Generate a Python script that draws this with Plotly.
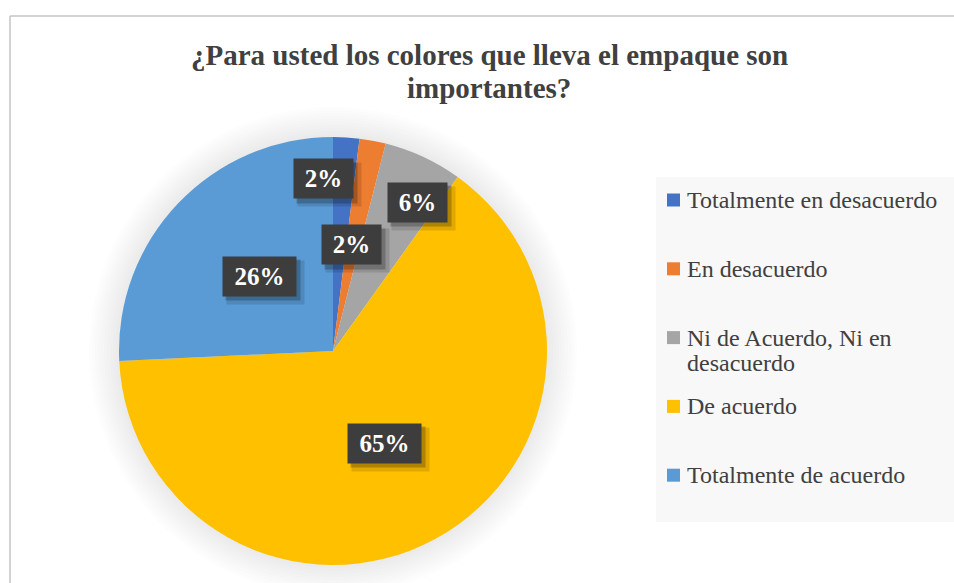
import math
import plotly.graph_objects as go

# Survey answers (percent of respondents)
categories = [
    "Totalmente en desacuerdo",
    "En desacuerdo",
    "Ni de Acuerdo, Ni en<br>desacuerdo",
    "De acuerdo",
    "Totalmente de acuerdo",
]
values = [2, 2, 6, 65, 26]
colors = ["#4472C4", "#ED7D31", "#A5A5A5", "#FFC000", "#5B9BD5"]
title_lines = ["¿Para usted los colores que lleva el empaque son", "importantes?"]

W, H = 954, 583
SERIF = "Liberation Serif"
TEXT_GRAY = "#404040"

# pie placement (pixels)
PIE_CX, PIE_CY, PIE_R = 333, 351, 214

# data-label placement: fraction of radius and small angular nudge (deg)
LABEL_RF = [0.807, 0.503, 0.80, 0.494, 0.49]
LABEL_DA = [-6.8, -0.8, 4.6, -0.5, 1.7]


def px(x):
    return x / W


def py(y):
    return 1 - y / H


fig = go.Figure()
fig.add_trace(go.Pie(
    labels=[c.replace("<br>", " ") for c in categories],
    values=values,
    marker=dict(colors=colors, line=dict(width=0)),
    sort=False,
    direction="clockwise",
    rotation=0,
    textinfo="none",
    showlegend=False,
    domain=dict(x=[px(PIE_CX - PIE_R), px(PIE_CX + PIE_R)],
                y=[py(PIE_CY + PIE_R), py(PIE_CY - PIE_R)]),
))

shapes = []
# soft glow around the pie
for k in range(10):
    rr = PIE_R + 3 * (k + 1)
    shapes.append(dict(
        type="circle", xref="paper", yref="paper", layer="below",
        x0=px(PIE_CX - rr), x1=px(PIE_CX + rr),
        y0=py(PIE_CY + rr), y1=py(PIE_CY - rr),
        fillcolor="#808080", opacity=0.018, line=dict(width=0),
    ))

# chart frame (top and left edges)
shapes.append(dict(type="line", xref="paper", yref="paper",
                   x0=px(10), x1=1, y0=py(16), y1=py(16),
                   line=dict(color="#c4c4c4", width=1.5)))
shapes.append(dict(type="line", xref="paper", yref="paper",
                   x0=px(10), x1=px(10), y0=py(16), y1=0,
                   line=dict(color="#c4c4c4", width=1.5)))

# legend panel
LEG_X0, LEG_Y0, LEG_Y1 = 656, 177, 522
shapes.append(dict(type="rect", xref="paper", yref="paper", layer="below",
                   x0=px(LEG_X0), x1=1.01, y0=py(LEG_Y1), y1=py(LEG_Y0),
                   fillcolor="#f8f8f8", line=dict(width=0)))

annotations = []

# title
TITLE_Y = [55, 88]
for line, ty in zip(title_lines, TITLE_Y):
    annotations.append(dict(
        text=f"<b>{line}</b>", xref="paper", yref="paper",
        x=px(489), y=py(ty), xanchor="center", yanchor="middle",
        showarrow=False, font=dict(family=SERIF, size=29, color=TEXT_GRAY),
    ))

# legend entries
LEG_FIRST, LEG_STEP, LEG_LINE = 200, 68.8, 25
for i, (cat, col) in enumerate(zip(categories, colors)):
    yc = LEG_FIRST + LEG_STEP * i
    shapes.append(dict(type="rect", xref="paper", yref="paper",
                       x0=px(667), x1=px(680), y0=py(yc + 6.5), y1=py(yc - 6.5),
                       fillcolor=col, line=dict(width=0)))
    for j, part in enumerate(cat.split("<br>")):
        annotations.append(dict(
            text=part, xref="paper", yref="paper",
            x=px(685), y=py(yc + j * LEG_LINE), xanchor="left", yanchor="middle",
            showarrow=False, font=dict(family=SERIF, size=24, color=TEXT_GRAY),
        ))

# data labels: dark boxes with a drop shadow
total = sum(values)
cum = 0
for v, rf, da in zip(values, LABEL_RF, LABEL_DA):
    mid = (cum + v / 2) / total * 360 + da
    cum += v
    rad = math.radians(mid)
    lx = PIE_CX + rf * PIE_R * math.sin(rad)
    ly = PIE_CY - rf * PIE_R * math.cos(rad)
    txt = f"{v}%"
    bw = 31 + 14 * len(txt)
    for sx, sy, a, grow in [(6, -6, 0.12, 4), (4, -4, 0.22, 1)]:
        annotations.append(dict(
            text=" ", xref="paper", yref="paper", x=px(lx), y=py(ly),
            xanchor="center", yanchor="middle", xshift=sx, yshift=sy,
            width=bw + grow, height=39 + grow, borderpad=0,
            bgcolor=f"rgba(0,0,0,{a})", showarrow=False,
            font=dict(size=10),
        ))
    annotations.append(dict(
        text=f"<b>{txt}</b>", xref="paper", yref="paper", x=px(lx), y=py(ly),
        xanchor="center", yanchor="middle", width=bw, height=39, borderpad=0,
        bgcolor="#3d3d3d", showarrow=False,
        font=dict(family=SERIF, size=25, color="white"),
    ))

fig.update_layout(
    width=W, height=H, autosize=False,
    margin=dict(l=0, r=0, t=0, b=0),
    paper_bgcolor="white", plot_bgcolor="white",
    shapes=shapes, annotations=annotations,
)

fig.write_html("out.html")
